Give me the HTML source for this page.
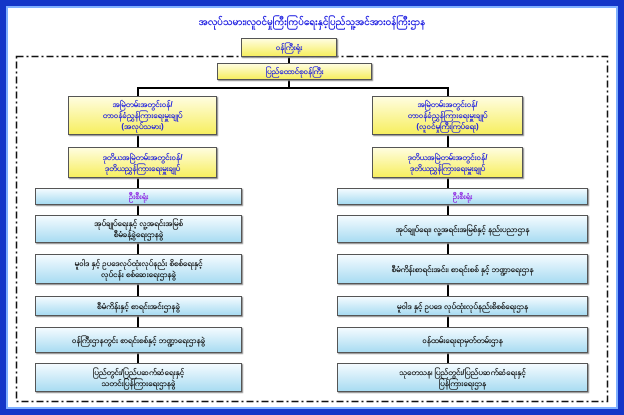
<!DOCTYPE html>
<html><head><meta charset="utf-8"><style>
body{margin:0;width:624px;height:415px;overflow:hidden;background:#fff;font-family:"Liberation Sans",sans-serif}
.frame{position:absolute;left:0;top:0;width:612px;height:403px;border:6px solid #1436c8;background:#fff;box-shadow:inset 0 0 0 2px #7fb0ff}
.b{position:absolute;box-sizing:border-box;border:1px solid #555;display:flex;align-items:center;justify-content:center;text-align:center;font-size:8px;line-height:11px;font-weight:bold;box-shadow:1px 1px 1px #888}
.y{background:linear-gradient(#fffde0,#f7ef60);color:#1a1ae0}
.c{background:linear-gradient(#f4fbff,#a9dcf2);color:#111}
.h{color:#8a1ae0}
.l{position:absolute;background:#000}
</style></head><body>
<div class="frame"></div>
<div style="position:absolute;left:0;top:15px;width:624px;text-align:center;color:#1a1ae0;font-size:10px;font-weight:bold">အလုပ်သမား၊လူဝင်မှုကြီးကြပ်ရေးနှင့်ပြည်သူ့အင်အားဝန်ကြီးဌာန</div>
<svg style="position:absolute;left:0;top:0" width="624" height="415"><rect x="16.5" y="56.5" width="591" height="345" fill="none" stroke="#111" stroke-width="1.5" stroke-dasharray="7,3,2,3"/></svg>
<div class="l" style="left:288px;top:56px;width:2px;height:8px"></div>
<div class="l" style="left:137px;top:87px;width:312px;height:2px"></div>
<div class="l" style="left:288px;top:79px;width:2px;height:9px"></div>
<div class="l" style="left:137px;top:87px;width:2px;height:290px"></div>
<div class="l" style="left:447px;top:87px;width:2px;height:290px"></div>
<div class="b y" style="left:241px;top:38px;width:96px;height:19px">ဝန်ကြီးရုံး</div>
<div class="b y" style="left:217px;top:63px;width:155px;height:17px">ပြည်ထောင်စုဝန်ကြီး</div>
<div class="b y" style="left:68px;top:96px;width:149px;height:39px">အမြဲတမ်းအတွင်းဝန်/<br>တာဝန်ခံညွှန်ကြားရေးမှူးချုပ်<br>(အလုပ်သမား)</div>
<div class="b y" style="left:372px;top:96px;width:151px;height:39px">အမြဲတမ်းအတွင်းဝန်/<br>တာဝန်ခံညွှန်ကြားရေးမှူးချုပ်<br>(လူဝင်မှုကြီးကြပ်ရေး)</div>
<div class="b y" style="left:68px;top:147px;width:149px;height:31px">ဒုတိယအမြဲတမ်းအတွင်းဝန်/<br>ဒုတိယညွှန်ကြားရေးမှူးချုပ်</div>
<div class="b y" style="left:372px;top:147px;width:151px;height:31px">ဒုတိယအမြဲတမ်းအတွင်းဝန်/<br>ဒုတိယညွှန်ကြားရေးမှူးချုပ်</div>
<div class="b c h" style="left:35px;top:188px;width:207px;height:17px">ဦးစီးရုံး</div>
<div class="b c h" style="left:337px;top:188px;width:251px;height:17px">ဦးစီးရုံး</div>
<div class="b c" style="left:35px;top:215px;width:207px;height:28px">အုပ်ချုပ်ရေးနှင့် လူ့အရင်းအမြစ်<br>စီမံခန့်ခွဲရေးဌာနခွဲ</div>
<div class="b c" style="left:35px;top:254px;width:207px;height:30px">မူဝါဒ နှင့် ဥပဒေလုပ်ထုံးလုပ်နည်း စိစစ်ရေးနှင့်<br>လုပ်ငန်း စစ်ဆေးရေးဌာနခွဲ</div>
<div class="b c" style="left:35px;top:296px;width:207px;height:20px">စီမံကိန်းနှင့် စာရင်းအင်းဌာနခွဲ</div>
<div class="b c" style="left:35px;top:327px;width:207px;height:26px">ဝန်ကြီးဌာနတွင်း စာရင်းစစ်နှင့် ဘဏ္ဍာရေးဌာနခွဲ</div>
<div class="b c" style="left:35px;top:363px;width:207px;height:29px">ပြည်တွင်း/ပြည်ပဆက်ဆံရေးနှင့်<br>သတင်းပြန်ကြားရေးဌာနခွဲ</div>
<div class="b c" style="left:337px;top:215px;width:251px;height:28px">အုပ်ချုပ်ရေး၊ လူ့အရင်းအမြစ်နှင့် နည်းပညာဌာန</div>
<div class="b c" style="left:337px;top:254px;width:251px;height:30px">စီမံကိန်းစာရင်းအင်း၊ စာရင်းစစ် နှင့် ဘဏ္ဍာရေးဌာန</div>
<div class="b c" style="left:337px;top:296px;width:251px;height:20px">မူဝါဒ နှင့် ဥပဒေ လုပ်ထုံးလုပ်နည်းစိစစ်ရေးဌာန</div>
<div class="b c" style="left:337px;top:327px;width:251px;height:26px">ဝန်ထမ်းရေးရာမှတ်တမ်းဌာန</div>
<div class="b c" style="left:337px;top:363px;width:251px;height:29px">သုတေသန၊ ပြည်တွင်း/ပြည်ပဆက်ဆံရေးနှင့်<br>ပြန်ကြားရေးဌာန</div>
</body></html>
